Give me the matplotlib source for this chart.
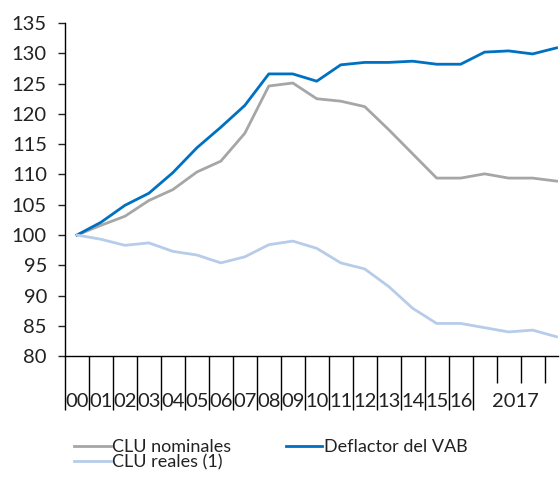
import numpy as np
import matplotlib.pyplot as plt
from matplotlib.transforms import blended_transform_factory, ScaledTranslation

plt.rcParams['font.family'] = ['Lato', 'DejaVu Sans']

# annual 2000-2016, then four quarters of 2017
years = ['00', '01', '02', '03', '04', '05', '06', '07', '08', '09',
         '10', '11', '12', '13', '14', '15', '16']
n_quarters = 4
year_label_2017 = '2017'

clu_nominales = [100.0, 101.6, 103.1, 105.7, 107.5, 110.4, 112.2, 116.8, 124.6, 125.1,
                 122.5, 122.1, 121.2, 117.4, 113.4, 109.4, 109.4,
                 110.1, 109.4, 109.4, 108.9]
deflactor_vab = [100.0, 102.1, 104.9, 106.9, 110.3, 114.4, 117.8, 121.4, 126.6, 126.6,
                 125.4, 128.1, 128.5, 128.5, 128.7, 128.2, 128.2,
                 130.2, 130.4, 129.9, 130.9]
clu_reales = [100.0, 99.3, 98.3, 98.7, 97.3, 96.7, 95.4, 96.4, 98.4, 99.0,
              97.8, 95.4, 94.4, 91.5, 87.9, 85.4, 85.4,
              84.7, 84.0, 84.3, 83.2]

x = np.arange(len(clu_nominales))

fig = plt.figure(figsize=(5.6, 4.8), dpi=100)
ax = fig.add_axes([0.116, 0.258, 0.880, 0.694])

lw = 2.0
ax.plot(x, clu_nominales, color='#a6a6a6', lw=lw, label='CLU nominales')
ax.plot(x, deflactor_vab, color='#0070c0', lw=lw, label='Deflactor del VAB')
ax.plot(x, clu_reales, color='#b7cce9', lw=lw, label='CLU reales (1)')

ax.set_ylim(80, 135)
ax.set_yticks(np.arange(80, 136, 5))
ax.set_xlim(-0.5, 20.05)

for s in ['top', 'right']:
    ax.spines[s].set_visible(False)
for s in ['left', 'bottom']:
    ax.spines[s].set_linewidth(1.0)
    ax.spines[s].set_color('black')

ax.tick_params(axis='y', length=5, width=1.0, labelsize=14.5, colors='#222222', pad=8)

# long ticks between years, short ticks between quarters
n_years = len(years)
ax.set_xticks(np.arange(-0.5, n_years, 1.0))
ax.set_xticks(np.arange(n_years + 0.5, n_years + n_quarters - 0.5, 1.0), minor=True)
ax.tick_params(axis='x', which='major', length=39, width=1.0, labelbottom=False)
ax.tick_params(axis='x', which='minor', length=19.5, width=1.0, labelbottom=False)

trans = blended_transform_factory(ax.transData, ax.transAxes)
off = ScaledTranslation(0, -45 / 100, fig.dpi_scale_trans)
for i, lab in enumerate(years):
    ax.text(i, 0, lab, transform=trans + off, ha='center', va='center',
            fontsize=14.5, color='#222222')
ax.text(n_years + (n_quarters - 1) / 2 - 0.2, 0, year_label_2017, transform=trans + off,
        ha='center', va='center', fontsize=14.5, color='#222222')

handles, labels = ax.get_legend_handles_labels()
order = [0, 2, 1]
leg = fig.legend([handles[i] for i in order], [labels[i] for i in order],
                 loc='upper left', bbox_to_anchor=(0.12, 0.10), ncol=2, frameon=False,
                 fontsize=13, handlelength=2.0, handletextpad=0.1, columnspacing=3.0,
                 labelspacing=-0.05, borderaxespad=0)
for t in leg.get_texts():
    t.set_color('#222222')

fig.savefig('out.png', dpi=100)
